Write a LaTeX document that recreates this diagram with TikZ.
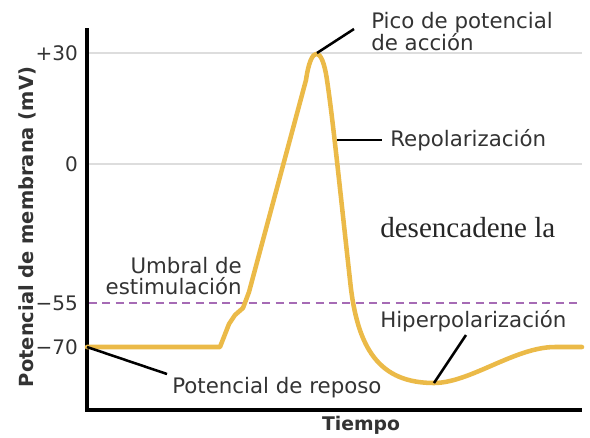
\documentclass[tikz,border=0pt]{standalone}
\usepackage{fontspec}
\setmainfont{DejaVu Sans}
\newfontfamily\serfont{Liberation Serif}
\definecolor{curvegold}{HTML}{EBBA48}
\definecolor{gridgray}{HTML}{DDDDDD}
\definecolor{threshpurple}{HTML}{A66BB5}
\definecolor{txtgray}{HTML}{333333}
\begin{document}
\begin{tikzpicture}[x=0.75pt,y=-0.75pt,
  lbl/.style={font=\fontsize{16}{16.5}\selectfont, text=txtgray, inner sep=0pt},
  ticklbl/.style={font=\fontsize{15}{15}\selectfont, text=txtgray, inner sep=0pt, anchor=east},
  gridline/.style={gridgray, line width=1.5pt},
  axisline/.style={black, line width=2.3pt},
  apcurve/.style={curvegold, line width=3.4pt, line join=round, line cap=round},
  leader/.style={black, line width=1.9pt},
  threshold/.style={threshpurple, line width=1.1pt, dash pattern=on 6pt off 4pt}]
\useasboundingbox (0,0) rectangle (590,437);
% grid
\coordinate (g30a) at (89,53);  \coordinate (g30b) at (582,53);
\coordinate (g0a) at (89,164);  \coordinate (g0b) at (582,164);
\coordinate (g55a) at (89,303); \coordinate (g55b) at (582,303);
\draw[gridline] (g30a) -- (g30b);
\draw[gridline] (g0a) -- (g0b);
\draw[threshold] (g55a) -- (g55b);
% axes
\coordinate (ytop) at (87,28);
\coordinate (orig) at (87,410);
\coordinate (xend) at (582,410);
\draw[axisline] (ytop) -- (orig) -- (xend);
% tick labels
\node[ticklbl] (t30) at (78,53) {+30};
\node[ticklbl] (t0) at (78,164) {0};
\node[ticklbl] (t55) at (78,303) {−55};
\node[ticklbl] (t70) at (78,347) {−70};
% axis titles
\node[font=\bfseries\fontsize{14.6}{15}\selectfont, text=txtgray, rotate=90, inner sep=0pt] (ylab) at (27,227) {Potencial de membrana (mV)};
\node[font=\bfseries\fontsize{14.1}{15}\selectfont, text=txtgray, inner sep=0pt, anchor=base] (xlab) at (361,430) {Tiempo};
% curve points
\coordinate (rest) at (87,347);
\coordinate (peak) at (317,53);
\coordinate (repol) at (337,140);
\coordinate (hyper) at (434,383);
\draw[apcurve] (rest) -- (220,347) -- (229,324) -- (235,315) -- (243,308) -- (249,292) -- (306,80)
  .. controls (311,45) and (322,45) .. (327,80)
  .. controls (333,120) and (340,190) .. (350,280)
  .. controls (357,350) and (380,383) .. (hyper)
  .. controls (470,383) and (515,347) .. (555,347) -- (582,347);
% labels
\node[lbl, anchor=base west] (picolab) at (371,28) {Pico de potencial};
\node[lbl, anchor=base west] (picolab2) at (371,50) {de acción};
\node[lbl, anchor=base west] (repollab) at (390,146) {Repolarización};
\node[lbl, anchor=base east] (umbral1) at (242,273) {Umbral de};
\node[lbl, anchor=base east] (umbral2) at (242,294) {estimulación};
\node[lbl, anchor=base west] (hiperlab) at (380,327) {Hiperpolarización};
\node[lbl, anchor=base west] (reposolab) at (172,393) {Potencial de reposo};
\node[font=\serfont\fontsize{21.8}{22}\selectfont, text=black!85, inner sep=0pt, anchor=base west] (stray) at (380,237) {desencadene la};
% leaders
\coordinate (picoend) at (354,29);
\coordinate (repolend) at (382,140);
\coordinate (hyperend) at (466,335);
\coordinate (restend) at (167,374);
\draw[leader] (peak) -- (picoend);
\draw[leader] (repol) -- (repolend);
\draw[leader] (hyper) -- (hyperend);
\draw[leader] (rest) -- (restend);
\end{tikzpicture}
\end{document}
